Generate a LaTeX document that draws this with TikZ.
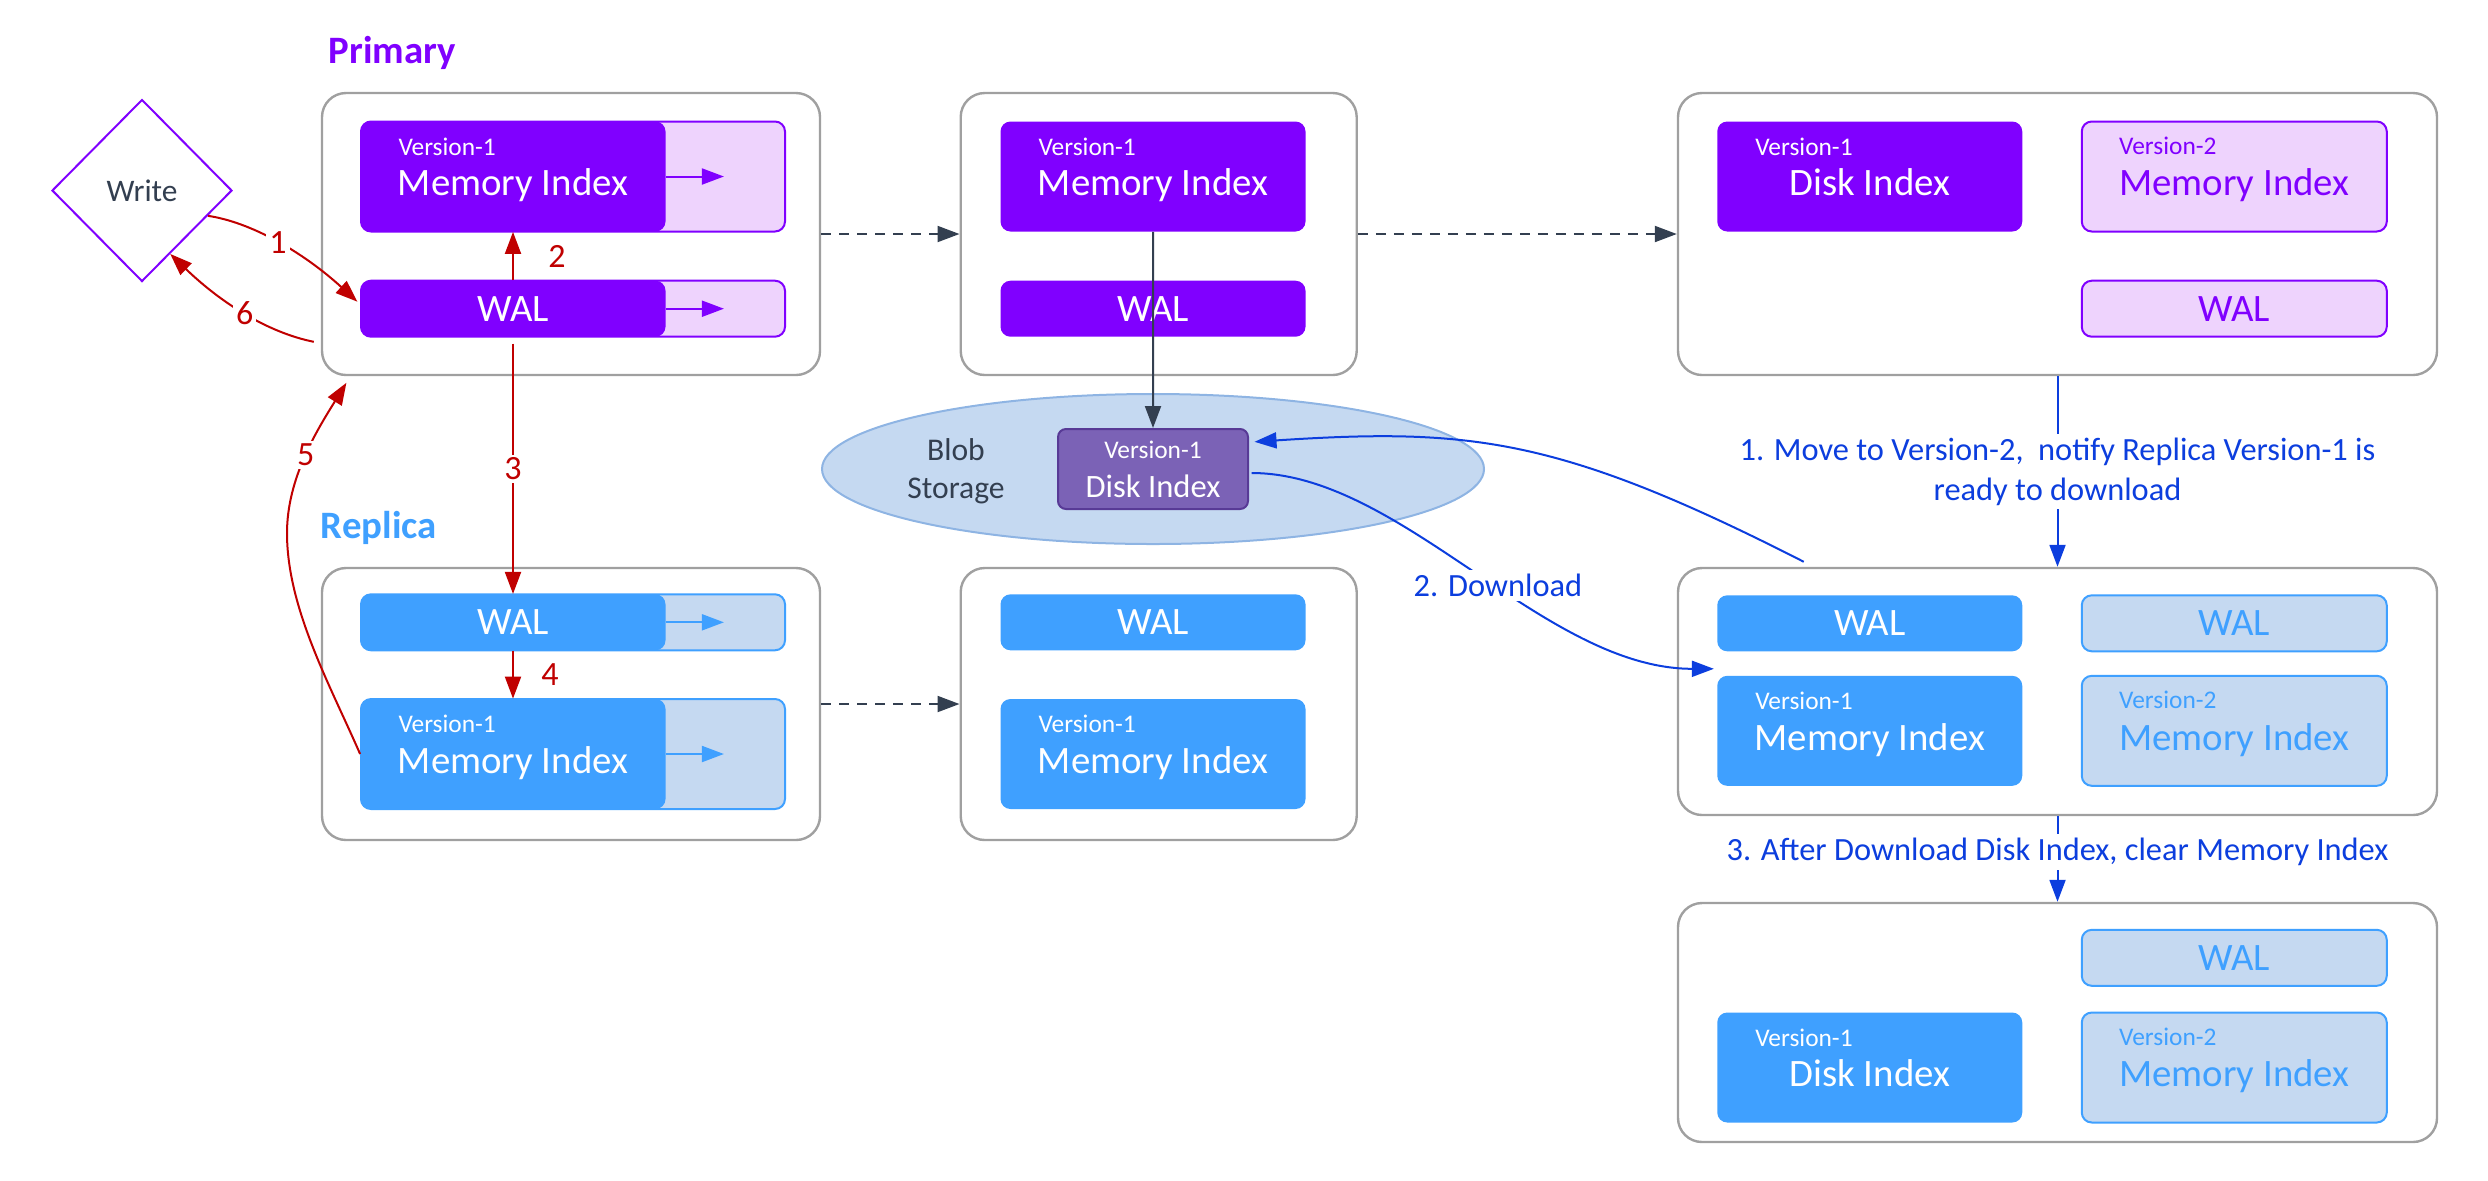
\documentclass[tikz,border=0pt]{standalone}
\usepackage{fontspec}
\setmainfont{Carlito}
\usetikzlibrary{shapes.geometric,arrows.meta}

\definecolor{prim}{RGB}{128,0,255}
\definecolor{primlight}{RGB}{238,211,253}
\definecolor{repl}{RGB}{63,160,255}
\definecolor{repllight}{RGB}{197,217,241}
\definecolor{diskfill}{RGB}{123,98,182}
\definecolor{diskline}{RGB}{88,58,150}
\definecolor{blobline}{RGB}{142,180,227}
\definecolor{flowred}{RGB}{192,0,0}
\definecolor{flowblue}{RGB}{12,62,222}
\definecolor{slate}{RGB}{51,63,80}
\definecolor{frame}{RGB}{160,160,160}

\newcommand{\fntmain}{\fontsize{19.4}{23}\selectfont}
\newcommand{\fntver}{\fontsize{12.7}{15}\selectfont}
\newcommand{\fntnum}{\fontsize{17}{20}\selectfont}
\newcommand{\fntnote}{\fontsize{16.2}{20}\selectfont}
\newcommand{\fnttitle}{\fontsize{19.4}{23}\selectfont\bfseries}
\newcommand{\fntwrite}{\fontsize{15.7}{19}\selectfont}
\newcommand{\fntblob}{\fontsize{15.8}{19}\selectfont}
\newcommand{\fntdisk}{\fontsize{16.3}{19}\selectfont}

\tikzset{
  panelbox/.style={draw=frame, line width=1.2pt, fill=white, rounded corners=12pt, inner sep=0pt},
  barnode/.style={rounded corners=5pt, inner sep=0pt, minimum width=152.5pt, font=\fntmain, text depth=0pt},
  walbar/.style={barnode, minimum height=28pt, text height=12.3pt},
  idxbar/.style={barnode, minimum height=55pt, text height=19.2pt},
  darkfill/.style={fill=#1, text=white},
  lightfill/.style={fill=#1light, draw=#1, line width=1pt, text=#1},
  vtag/.style={font=\fntver, inner sep=0pt, anchor=west, text height=8pt, text depth=0pt, xshift=19pt, yshift=-13pt},
  headtip/.style={-{Triangle[length=11pt,width=8pt]}},
  inarrow/.style={headtip, line width=1pt},
  redflow/.style={headtip, draw=flowred, line width=1pt},
  blueflow/.style={headtip, draw=flowblue, line width=1pt},
  nextstep/.style={headtip, draw=slate, line width=1pt, dash pattern=on 5pt off 4pt},
  numlbl/.style={font=\fntnum, text=flowred, fill=white, inner sep=1.5pt},
  notelbl/.style={font=\fntnote, text=flowblue, fill=white, inner sep=2pt, align=center},
}

\begin{document}
\begin{tikzpicture}[x=0.5pt, y=-0.5pt]
\useasboundingbox (0,0) rectangle (2488,1180);

\node[diamond, draw=prim, line width=1pt, minimum width=90pt, minimum height=91pt, inner sep=0pt, font=\fntwrite, text=slate] (write) at (142,190.5) {Write};

% primary
\begin{scope}[shift={(322,93)}]
  \node[panelbox, minimum width=249pt, minimum height=141pt] (p1) at (249,141) {};
  \node[idxbar, lightfill=prim, minimum width=212pt] (pmi) at (251,83.5) {};
  \node[idxbar, darkfill=prim, label={[vtag,text=white]north west:Version-1}] (pmid) at (191,83.5) {Memory Index};
  \node[walbar, lightfill=prim, minimum width=212pt] (pwal) at (251,215.7) {};
  \node[walbar, darkfill=prim] (pwald) at (191,215.7) {WAL};
  \draw[inarrow, prim] (pmid.east) -- ([xshift=29pt]pmid.east);
  \draw[inarrow, prim] (pwald.east) -- ([xshift=29pt]pwald.east);
\end{scope}
\node[font=\fnttitle, text=prim, anchor=base west] (primary) at ([shift={(0.5pt,14pt)}]p1.north west) {Primary};

\begin{scope}[shift={(960.7,93)}]
  \node[panelbox, minimum width=198pt, minimum height=141pt] (p2) at (198,141) {};
  \node[idxbar, darkfill=prim, label={[vtag,text=white]north west:Version-1}] (p2mi) at (192.3,83.5) {Memory Index};
  \node[walbar, darkfill=prim] (p2wal) at (192.3,215.7) {WAL};
\end{scope}

\begin{scope}[shift={(1678,93)}]
  \node[panelbox, minimum width=379.5pt, minimum height=141pt] (p3) at (379.5,141) {};
  \node[idxbar, darkfill=prim, label={[vtag,text=white]north west:Version-1}] (p3disk) at (191.75,83.5) {Disk Index};
  \node[idxbar, lightfill=prim, label={[vtag,text=prim]north west:Version-2}] (p3mi) at (556.25,83.5) {Memory Index};
  \node[walbar, lightfill=prim] (p3wal) at (556.25,215.7) {WAL};
\end{scope}

% replica
\begin{scope}[shift={(322,568)}]
  \node[panelbox, minimum width=249pt, minimum height=136pt] (r1) at (249,136) {};
  \node[walbar, lightfill=repl, minimum width=212pt] (rwal) at (251,54.3) {};
  \node[walbar, darkfill=repl] (rwald) at (191,54.3) {WAL};
  \node[idxbar, lightfill=repl, minimum width=212pt] (rmi) at (251,186) {};
  \node[idxbar, darkfill=repl, label={[vtag,text=white]north west:Version-1}] (rmid) at (191,186) {Memory Index};
  \draw[inarrow, repl] (rwald.east) -- ([xshift=29pt]rwald.east);
  \draw[inarrow, repl] (rmid.east) -- ([xshift=29pt]rmid.east);
\end{scope}
\node[font=\fnttitle, text=repl, anchor=base west] (replica) at ([shift={(-3.5pt,14pt)}]r1.north west) {Replica};

\begin{scope}[shift={(960.7,568)}]
  \node[panelbox, minimum width=198pt, minimum height=136pt] (r2) at (198,136) {};
  \node[walbar, darkfill=repl] (r2wal) at (192.3,54.3) {WAL};
  \node[idxbar, darkfill=repl, label={[vtag,text=white]north west:Version-1}] (r2mi) at (192.3,186) {Memory Index};
\end{scope}

\begin{scope}[shift={(1678,568)}]
  \node[panelbox, minimum width=379.5pt, minimum height=123.5pt] (r3) at (379.5,123.5) {};
  \node[walbar, darkfill=repl] (r3wal) at (191.75,55.3) {WAL};
  \node[walbar, lightfill=repl] (r3wal2) at (556.25,55.3) {WAL};
  \node[idxbar, darkfill=repl, label={[vtag,text=white]north west:Version-1}] (r3mi) at (191.75,162.8) {Memory Index};
  \node[idxbar, lightfill=repl, label={[vtag,text=repl]north west:Version-2}] (r3mi2) at (556.25,162.8) {Memory Index};
\end{scope}

\begin{scope}[shift={(1678,903)}]
  \node[panelbox, minimum width=379.5pt, minimum height=119.5pt] (r4) at (379.5,119.5) {};
  \node[walbar, lightfill=repl] (r4wal2) at (556.25,54.8) {WAL};
  \node[idxbar, darkfill=repl, label={[vtag,text=white]north west:Version-1}] (r4disk) at (191.75,164.5) {Disk Index};
  \node[idxbar, lightfill=repl, label={[vtag,text=repl]north west:Version-2}] (r4mi2) at (556.25,164.5) {Memory Index};
\end{scope}

% blob storage
\node[ellipse, fill=repllight, draw=blobline, line width=1pt, minimum width=331pt, minimum height=75pt] (blob) at (1153,469) {};
\node[font=\fntblob, text=slate, align=center] (blobtxt) at (956,471) {Blob\\Storage};
\node[fill=diskfill, draw=diskline, line width=1pt, rounded corners=4pt, minimum width=95pt, minimum height=40pt, inner sep=0pt, font=\fntdisk, text=white, text height=28pt, text depth=0pt,
  label={[font=\fntver, text=white, inner sep=0pt, text height=8pt, text depth=0pt, anchor=center, yshift=-11pt]north:Version-1}] (disk) at (1153,469) {Disk Index};

% write path
\coordinate (bend5) at (287,533);
\draw[redflow] (write.-21) .. controls +(42.5,6.3) and +(-55.2,-50.3) .. ([shift={(-1.3pt,3.5pt)}]pwal.west) node[numlbl, pos=0.5] {1};
\draw[redflow] (pwald.north) -- (pmid.south) node[numlbl, midway, xshift=22pt] {2};
\draw[redflow] ([yshift=-3.3pt]pwald.south) -- (rwald.north) node[numlbl, midway] {3};
\draw[redflow] (rwald.south) -- (rmid.north) node[numlbl, midway, xshift=18.5pt] {4};
\draw[redflow] (rmid.west) .. controls +(-30,-69) and +(0,75) .. (bend5) .. controls +(0,-55) and +(-29,46.8) .. ([shift={(12.8pt,-3.3pt)}]p1.south west) node[numlbl, pos=0.5] {5};
\draw[redflow] ([shift={(-3.5pt,17.2pt)}]p1.south west) .. controls +(-44.8,-9) and +(52.3,50.3) .. (write.-66) node[numlbl, pos=0.5] {6};

\draw[nextstep] (p1.east) -- (p2.west);
\draw[nextstep] (p2.east) -- (p3.west);
\draw[nextstep] (r1.east) -- (r2.west);
\draw[headtip, draw=slate, line width=1pt] (p2mi.south) -- (disk.north);

% version switch
\draw[blueflow] (p3.south) -- (r3.north) node[notelbl, midway] {1. Move to Version-2,\ \ notify Replica Version-1 is\\ready to download};
\draw[blueflow] ([shift={(1.3pt,-2pt)}]disk.east) .. controls +(150,0) and +(-170,0) .. ([shift={(-1.5pt,3.3pt)}]r3mi.north west) node[notelbl, pos=0.55] {2. Download};
\draw[blueflow] ([shift={(63.5pt,2.5pt)}]r3.north west) .. controls +(-245,-125) and +(215,-14) .. ([shift={(2.75pt,13.6pt)}]disk.east);
\draw[blueflow] (r3.south) -- (r4.north) node[notelbl, pos=0.42] {3. After Download Disk Index, clear Memory Index};
\end{tikzpicture}
\end{document}
